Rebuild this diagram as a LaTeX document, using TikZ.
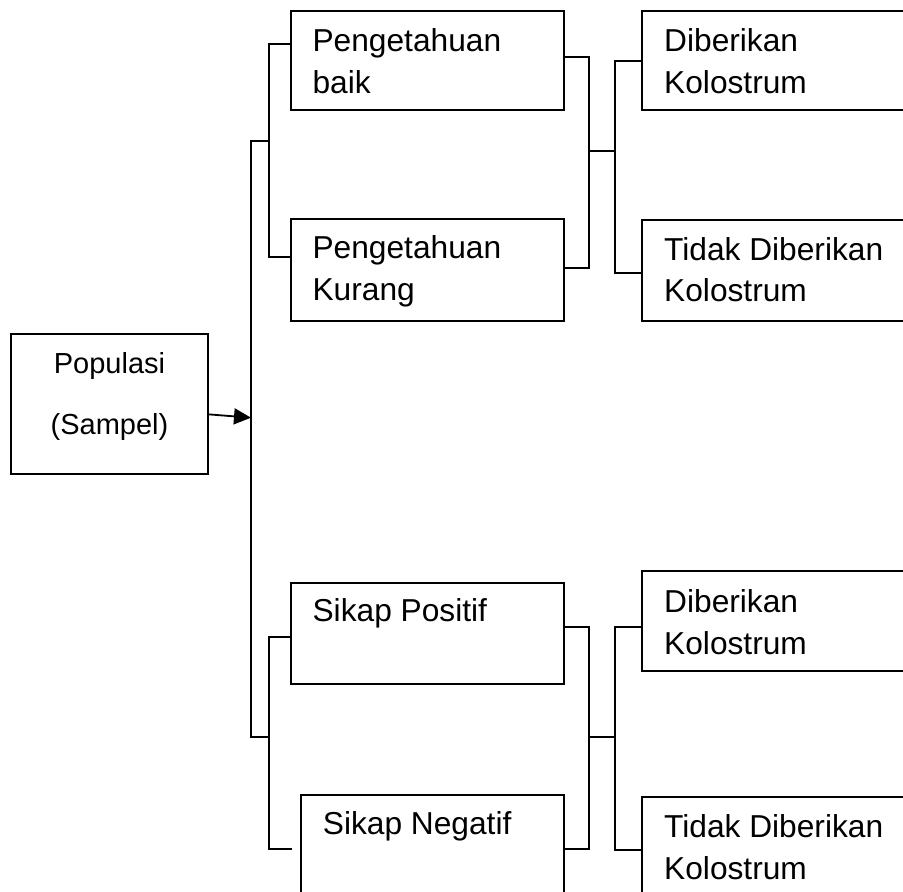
\documentclass[tikz,border=0pt]{standalone}
\usepackage{fontspec}
\setmainfont{Liberation Sans}
\usetikzlibrary{arrows.meta}
\begin{document}
\begin{tikzpicture}[x=1pt,y=-1pt, line width=1.8pt,
 box/.style={draw, rectangle, inner sep=0pt, outer sep=0pt, anchor=north west},
 lbl/.style={anchor=base west, inner sep=0pt, align=left, font=\fontsize{31.7}{41.7}\selectfont},
 conn/.style={draw, line width=1.8pt}]
\clip (0,0) rectangle (903,892);
% boxes
\node[box, minimum width=197pt, minimum height=140pt] (pop) at (11,334.3) {};
\node[box, minimum width=272.7pt, minimum height=99pt] (pb) at (291,11) {};
\node[box, minimum width=272.7pt, minimum height=101.7pt] (pk) at (291,219) {};
\node[box, minimum width=300pt, minimum height=99.6pt] (d1) at (641.7,10.7) {};
\node[box, minimum width=300pt, minimum height=100.7pt] (t1) at (641.7,220) {};
\node[box, minimum width=272.7pt, minimum height=101.6pt] (sp) at (291,582.7) {};
\node[box, minimum width=262.7pt, minimum height=150pt] (sn) at (301,795) {};
\node[box, minimum width=300pt, minimum height=100pt] (d2) at (641.7,570.7) {};
\node[box, minimum width=300pt, minimum height=150pt] (t2) at (641.7,797.3) {};
% texts (base anchor = baseline of last line)
\node[anchor=base, inner sep=0pt, align=center, font=\fontsize{29}{60.7}\selectfont] (popt) at (109.5,434) {Populasi\\(Sampel)};
\node[lbl] (pbt) at (311.7,93.3) {Pengetahuan\\baik};
\node[lbl] (pkt) at (311.7,300) {Pengetahuan\\Kurang};
\node[lbl] (d1t) at (663.3,93.3) {Diberikan\\Kolostrum};
\node[lbl] (t1t) at (663.3,301.7) {Tidak Diberikan\\Kolostrum};
\node[lbl] (spt) at (311.7,621.7) {Sikap Positif};
\node[lbl] (snt) at (322,834) {Sikap Negatif};
\node[lbl] (d2t) at (663.3,654) {Diberikan\\Kolostrum};
\node[lbl] (t2t) at (663.3,879) {Tidak Diberikan\\Kolostrum};
% trunk coordinates
\coordinate (trT) at (251,140.7);
\coordinate (trA) at (251,417.7);
\coordinate (trB) at (251,736.7);
\coordinate (lu) at (269,140.7);
\coordinate (ll) at (269,736.7);
\coordinate (ru) at (589,150.7);
\coordinate (rl) at (589,737);
% trunk
\draw[conn] (lu) -- (trT) -- (trB) -- (ll);
\draw[conn, -{Triangle[length=17pt,width=16pt]}] (pop.east |- 0,414.3) -- (trA);
% left upper bracket
\draw[conn] (pb.west |- 0,43.7) -- (269,43.7) -- (269,256.7) -- (pk.west |- 0,256.7);
% left lower bracket
\draw[conn] (sp.west |- 0,636.7) -- (269,636.7) -- (269,849) -- (291.7,849);
% right upper bracket
\draw[conn] (pb.east |- 0,57) -- (589,57) -- (589,267.7) -- (pk.east |- 0,267.7);
\draw[conn] (ru) -- (615,150.7);
\draw[conn] (d1.west |- 0,60.7) -- (615,60.7) -- (615,272.7) -- (t1.west |- 0,272.7);
% right lower bracket
\draw[conn] (sp.east |- 0,627) -- (589,627) -- (589,849) -- (sn.east |- 0,849);
\draw[conn] (rl) -- (615,737);
\draw[conn] (d2.west |- 0,626.7) -- (615,626.7) -- (615,850) -- (t2.west |- 0,850);
\end{tikzpicture}
\end{document}
